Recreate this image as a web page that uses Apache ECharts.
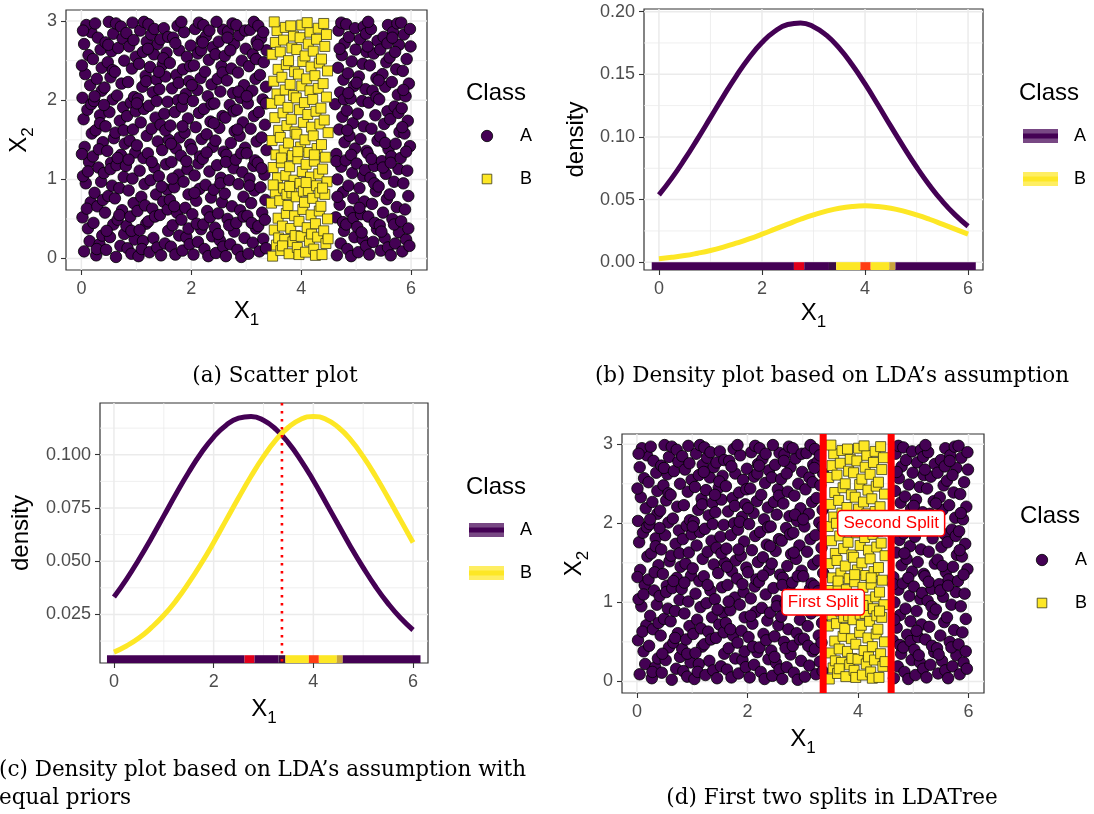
<!DOCTYPE html>
<html><head><meta charset="utf-8">
<script src="https://cdn.jsdelivr.net/npm/echarts@6/dist/echarts.min.js"></script>
<style>html,body{margin:0;padding:0;background:#fff}#c{width:1094px;height:814px}</style>
</head><body><div id="c"></div><script>
// ---------- data ----------
const classA = [
[0.05,0.09],[0.12,0.38],[0.02,0.52],[0.17,0.71],[0.08,0.95],[0.03,1.04],[0.14,1.22],[0.06,1.41],[0.19,1.58],[0.04,1.76],[0.11,1.88],[0.02,2.03],[0.16,2.19],[0.07,2.33],[0.01,2.44],[0.13,2.57],[0.05,2.71],[0.18,2.86],[0.09,2.95],[0.15,0.22],[0.10,0.63],[0.01,1.32],[0.18,1.95],[0.03,2.88],[0.12,1.10],
[0.27,0.04],[0.33,0.18],[0.22,0.45],[0.38,0.29],[0.29,0.66],[0.24,0.83],[0.36,0.97],[0.31,1.15],[0.21,1.29],[0.39,1.47],[0.26,1.62],[0.34,1.81],[0.23,1.99],[0.37,2.12],[0.28,2.27],[0.21,2.52],[0.35,2.64],[0.30,2.79],[0.25,2.97],[0.39,0.74],[0.32,1.38],[0.24,2.05],[0.37,2.41],[0.28,0.12],[0.34,1.71],
[0.45,0.11],[0.52,0.27],[0.58,0.43],[0.43,0.58],[0.49,0.79],[0.56,0.92],[0.41,1.08],[0.54,1.21],[0.47,1.36],[0.59,1.52],[0.44,1.67],[0.51,1.85],[0.57,2.01],[0.42,2.16],[0.53,2.29],[0.48,2.48],[0.55,2.62],[0.44,2.73],[0.50,2.99],[0.58,2.84],[0.46,0.35],[0.53,1.13],[0.41,1.94],[0.57,2.38],[0.49,2.70],
[0.63,0.02],[0.71,0.16],[0.78,0.31],[0.66,0.49],[0.74,0.61],[0.61,0.76],[0.69,0.89],[0.77,1.03],[0.64,1.18],[0.72,1.31],[0.79,1.45],[0.62,1.59],[0.70,1.74],[0.76,1.91],[0.65,2.06],[0.73,2.21],[0.61,2.36],[0.78,2.50],[0.67,2.66],[0.75,2.78],[0.63,2.97],[0.72,2.93],[0.69,0.55],[0.77,1.62],[0.66,1.27],
[0.84,0.13],[0.91,0.06],[0.97,0.24],[0.82,0.41],[0.89,0.53],[0.95,0.70],[0.86,0.86],[0.93,1.01],[0.81,1.17],[0.98,1.34],[0.88,1.49],[0.94,1.63],[0.83,1.80],[0.90,1.97],[0.96,2.04],[0.85,2.23],[0.92,2.40],[0.99,2.55],[0.87,2.68],[0.82,2.85],[0.95,2.76],[0.91,0.35],[0.86,1.25],[0.99,1.86],[0.93,2.98],
[1.04,0.03],[1.12,0.22],[1.18,0.44],[1.02,0.60],[1.09,0.78],[1.15,0.94],[1.06,1.11],[1.13,1.27],[1.01,1.43],[1.19,1.55],[1.08,1.72],[1.14,1.89],[1.03,2.02],[1.11,2.17],[1.17,2.31],[1.05,2.46],[1.12,2.61],[1.19,2.74],[1.07,2.88],[1.14,2.99],[1.10,0.12],[1.16,0.67],[1.01,1.96],[1.18,2.24],[1.06,0.36],
[1.24,0.08],[1.31,0.26],[1.38,0.14],[1.22,0.47],[1.29,0.63],[1.36,0.81],[1.26,0.99],[1.33,1.15],[1.21,1.33],[1.39,1.48],[1.28,1.64],[1.35,1.78],[1.23,1.93],[1.30,2.10],[1.37,2.26],[1.25,2.42],[1.32,2.58],[1.39,2.71],[1.27,2.83],[1.22,2.96],[1.34,0.53],[1.28,1.22],[1.37,1.99],[1.21,2.65],[1.33,2.90],
[1.45,0.04],[1.52,0.19],[1.58,0.35],[1.43,0.55],[1.49,0.72],[1.56,0.87],[1.41,1.04],[1.54,1.19],[1.47,1.37],[1.59,1.50],[1.44,1.69],[1.51,1.83],[1.57,1.98],[1.42,2.14],[1.53,2.30],[1.48,2.45],[1.55,2.60],[1.44,2.77],[1.50,2.91],[1.58,2.80],[1.46,0.91],[1.53,1.62],[1.41,2.36],[1.57,0.62],[1.49,2.53],
[1.63,0.15],[1.71,0.05],[1.78,0.29],[1.66,0.42],[1.74,0.58],[1.61,0.74],[1.69,0.90],[1.77,1.06],[1.64,1.22],[1.72,1.39],[1.79,1.53],[1.62,1.68],[1.70,1.85],[1.76,2.00],[1.65,2.15],[1.73,2.32],[1.61,2.47],[1.78,2.63],[1.67,2.79],[1.75,2.94],[1.69,0.66],[1.63,1.45],[1.77,2.22],[1.71,2.72],[1.66,1.01],
[1.84,0.10],[1.91,0.27],[1.97,0.18],[1.82,0.49],[1.89,0.64],[1.95,0.81],[1.86,0.97],[1.93,1.13],[1.81,1.30],[1.98,1.44],[1.88,1.59],[1.94,1.77],[1.83,1.92],[1.90,2.08],[1.96,2.24],[1.85,2.39],[1.92,2.55],[1.99,2.69],[1.87,2.86],[1.82,2.99],[1.95,0.38],[1.91,1.23],[1.86,2.02],[1.98,2.43],[1.84,1.67],
[2.04,0.05],[2.12,0.21],[2.18,0.37],[2.02,0.56],[2.09,0.73],[2.15,0.88],[2.06,1.05],[2.13,1.20],[2.01,1.38],[2.19,1.51],[2.08,1.66],[2.14,1.84],[2.03,1.99],[2.11,2.13],[2.17,2.28],[2.05,2.44],[2.12,2.59],[2.19,2.75],[2.07,2.90],[2.14,2.98],[2.10,0.44],[2.16,1.29],[2.01,2.19],[2.18,2.63],[2.06,0.83],
[2.24,0.12],[2.31,0.03],[2.38,0.28],[2.22,0.43],[2.29,0.60],[2.36,0.77],[2.26,0.93],[2.33,1.10],[2.21,1.26],[2.39,1.41],[2.28,1.57],[2.35,1.73],[2.23,1.89],[2.30,2.05],[2.37,2.20],[2.25,2.36],[2.32,2.51],[2.39,2.67],[2.27,2.81],[2.22,2.95],[2.34,0.52],[2.28,1.34],[2.37,1.95],[2.21,2.73],[2.33,2.88],
[2.45,0.07],[2.52,0.23],[2.58,0.15],[2.43,0.39],[2.49,0.57],[2.56,0.71],[2.41,0.87],[2.54,1.02],[2.47,1.18],[2.59,1.35],[2.44,1.49],[2.51,1.65],[2.57,1.80],[2.42,1.96],[2.53,2.11],[2.48,2.27],[2.55,2.43],[2.44,2.58],[2.50,2.74],[2.58,2.89],[2.46,2.99],[2.53,0.95],[2.41,1.71],[2.57,2.35],[2.49,0.31],
[2.63,0.03],[2.71,0.18],[2.78,0.34],[2.66,0.50],[2.74,0.66],[2.61,0.82],[2.69,0.99],[2.77,1.14],[2.64,1.31],[2.72,1.46],[2.79,1.61],[2.62,1.78],[2.70,1.94],[2.76,2.09],[2.65,2.25],[2.73,2.40],[2.61,2.56],[2.78,2.71],[2.67,2.87],[2.75,2.97],[2.69,0.42],[2.63,1.22],[2.77,1.86],[2.71,2.63],[2.66,2.79],
[2.84,0.11],[2.91,0.02],[2.97,0.26],[2.82,0.45],[2.89,0.61],[2.95,0.78],[2.86,0.94],[2.93,1.09],[2.81,1.25],[2.98,1.40],[2.88,1.55],[2.94,1.72],[2.83,1.88],[2.90,2.03],[2.96,2.19],[2.85,2.35],[2.92,2.50],[2.99,2.65],[2.87,2.82],[2.82,2.95],[2.95,0.53],[2.91,1.33],[2.86,2.11],[2.98,2.88],[2.84,1.63],
[3.04,0.06],[3.12,0.20],[3.18,0.38],[3.02,0.54],[3.09,0.70],[3.15,0.86],[3.06,1.01],[3.13,1.17],[3.01,1.33],[3.19,1.48],[3.08,1.64],[3.14,1.80],[3.03,1.96],[3.11,2.12],[3.17,2.27],[3.05,2.43],[3.12,2.58],[3.19,2.74],[3.07,2.89],[3.14,2.99],[3.10,0.45],[3.16,1.24],[3.01,2.05],[3.18,2.52],[3.06,0.92],
[3.24,0.09],[3.31,0.25],[3.36,0.13],[3.22,0.41],[3.29,0.58],[3.35,0.74],[3.26,0.90],[3.33,1.06],[3.21,1.21],[3.37,1.37],[3.28,1.53],[3.34,1.69],[3.23,1.85],[3.30,2.01],[3.36,2.17],[3.25,2.32],[3.32,2.48],[3.37,2.63],[3.27,2.78],[3.22,2.94],[3.34,0.49],[3.28,1.14],[3.36,1.96],[3.21,2.70],[3.31,2.86],
[4.65,0.04],[4.72,0.19],[4.78,0.35],[4.63,0.52],[4.70,0.68],[4.76,0.84],[4.66,1.00],[4.73,1.16],[4.64,1.32],[4.79,1.47],[4.69,1.63],[4.75,1.79],[4.62,1.95],[4.71,2.10],[4.77,2.26],[4.67,2.41],[4.74,2.57],[4.79,2.72],[4.68,2.88],[4.73,2.98],[4.76,0.46],[4.64,1.23],[4.78,2.01],[4.70,2.65],[4.66,0.78],
[4.84,0.12],[4.91,0.03],[4.97,0.27],[4.82,0.43],[4.89,0.59],[4.95,0.76],[4.86,0.92],[4.93,1.08],[4.81,1.24],[4.98,1.39],[4.88,1.55],[4.94,1.71],[4.83,1.87],[4.90,2.02],[4.96,2.18],[4.85,2.34],[4.92,2.49],[4.99,2.64],[4.87,2.80],[4.82,2.96],[4.95,0.51],[4.91,1.31],[4.86,2.09],[4.98,2.91],[4.84,1.62],
[5.04,0.08],[5.12,0.24],[5.18,0.16],[5.02,0.40],[5.09,0.56],[5.15,0.72],[5.06,0.89],[5.13,1.04],[5.01,1.20],[5.19,1.36],[5.08,1.51],[5.14,1.67],[5.03,1.83],[5.11,1.99],[5.17,2.14],[5.05,2.30],[5.12,2.46],[5.19,2.61],[5.07,2.77],[5.14,2.93],[5.10,0.33],[5.16,1.12],[5.01,2.22],[5.18,2.84],[5.06,0.64],
[5.24,0.05],[5.31,0.21],[5.38,0.37],[5.22,0.53],[5.29,0.69],[5.36,0.85],[5.26,1.02],[5.33,1.17],[5.21,1.33],[5.39,1.49],[5.28,1.64],[5.35,1.81],[5.23,1.97],[5.30,2.12],[5.37,2.28],[5.25,2.44],[5.32,2.59],[5.39,2.75],[5.27,2.90],[5.22,2.99],[5.34,0.45],[5.28,1.26],[5.37,2.04],[5.21,2.68],[5.33,0.95],
[5.45,0.10],[5.52,0.26],[5.58,0.14],[5.43,0.42],[5.49,0.58],[5.56,0.75],[5.41,0.91],[5.54,1.07],[5.47,1.23],[5.59,1.38],[5.44,1.54],[5.51,1.70],[5.57,1.86],[5.42,2.01],[5.53,2.17],[5.48,2.33],[5.55,2.48],[5.44,2.64],[5.50,2.80],[5.58,2.95],[5.46,0.34],[5.53,1.46],[5.41,2.25],[5.57,2.72],[5.49,1.15],
[5.63,0.04],[5.71,0.19],[5.78,0.33],[5.66,0.50],[5.74,0.65],[5.61,0.81],[5.69,0.97],[5.77,1.13],[5.64,1.29],[5.72,1.45],[5.79,1.60],[5.62,1.76],[5.70,1.92],[5.76,2.07],[5.65,2.23],[5.73,2.39],[5.61,2.54],[5.78,2.70],[5.67,2.86],[5.75,2.97],[5.69,0.43],[5.63,1.21],[5.77,1.84],[5.71,2.61],[5.66,2.79],
[5.84,0.09],[5.91,0.24],[5.97,0.16],[5.82,0.47],[5.89,0.62],[5.95,0.79],[5.86,0.95],[5.93,1.11],[5.81,1.27],[5.98,1.42],[5.88,1.58],[5.94,1.74],[5.83,1.90],[5.90,2.05],[5.96,2.21],[5.85,2.37],[5.92,2.52],[5.99,2.68],[5.87,2.83],[5.82,2.98],[5.95,0.38],[5.91,1.35],[5.86,2.13],[5.98,2.90],[5.84,1.66]
];
const classB = [
[3.48,0.03],[3.55,0.17],[3.51,0.36],[3.58,0.51],[3.46,0.70],[3.53,0.84],[3.57,1.02],[3.49,1.15],[3.54,1.31],[3.47,1.49],[3.59,1.62],[3.52,1.78],[3.46,1.96],[3.56,2.08],[3.50,2.24],[3.58,2.39],[3.47,2.58],[3.53,2.73],[3.56,2.88],[3.51,2.99],[3.59,0.26],[3.49,0.93],
[3.63,0.10],[3.70,0.24],[3.66,0.41],[3.73,0.57],[3.61,0.73],[3.68,0.89],[3.72,1.05],[3.64,1.21],[3.69,1.37],[3.62,1.53],[3.74,1.68],[3.67,1.84],[3.61,2.00],[3.71,2.13],[3.65,2.29],[3.73,2.45],[3.62,2.61],[3.68,2.76],[3.71,2.92],[3.66,0.16],[3.74,0.81],[3.64,1.27],
[3.78,0.06],[3.85,0.21],[3.81,0.38],[3.88,0.54],[3.76,0.67],[3.83,0.83],[3.87,0.99],[3.79,1.16],[3.84,1.30],[3.77,1.46],[3.89,1.60],[3.82,1.76],[3.76,1.91],[3.86,2.06],[3.80,2.20],[3.88,2.36],[3.77,2.50],[3.83,2.66],[3.86,2.81],[3.81,2.94],[3.89,0.29],[3.79,0.91],
[3.93,0.14],[4.00,0.28],[3.96,0.47],[4.03,0.62],[3.91,0.78],[3.98,0.95],[4.02,1.10],[3.94,1.26],[3.99,1.41],[3.92,1.57],[4.04,1.72],[3.97,1.88],[3.91,2.03],[4.01,2.18],[3.95,2.33],[4.03,2.49],[3.92,2.64],[3.98,2.79],[4.01,2.95],[3.96,0.05],[4.04,0.85],[3.94,1.35],
[4.08,0.08],[4.15,0.22],[4.11,0.39],[4.18,0.55],[4.06,0.71],[4.13,0.86],[4.17,1.03],[4.09,1.19],[4.14,1.34],[4.07,1.50],[4.19,1.66],[4.12,1.82],[4.06,1.97],[4.16,2.12],[4.10,2.27],[4.18,2.42],[4.07,2.56],[4.13,2.71],[4.16,2.86],[4.11,2.98],[4.19,0.31],[4.09,0.96],
[4.23,0.12],[4.30,0.27],[4.26,0.44],[4.33,0.60],[4.21,0.76],[4.28,0.92],[4.32,1.07],[4.24,1.23],[4.29,1.39],[4.22,1.55],[4.34,1.70],[4.27,1.86],[4.21,2.01],[4.31,2.15],[4.25,2.31],[4.33,2.47],[4.22,2.62],[4.28,2.77],[4.31,2.91],[4.26,0.04],[4.34,0.83],[4.24,1.31],
[4.38,0.05],[4.45,0.19],[4.41,0.35],[4.48,0.50],[4.36,0.66],[4.43,0.81],[4.47,0.97],[4.39,1.13],[4.44,1.28],[4.37,1.44],[4.49,1.59],[4.42,1.75],[4.36,1.90],[4.46,2.04],[4.40,2.21],[4.48,2.37],[4.37,2.52],[4.43,2.68],[4.46,2.83],[4.41,2.97],[4.49,0.25],[4.39,0.89]
];
const densX   = [0,0.25,0.5,0.75,1,1.25,1.5,1.75,2,2.25,2.5,2.75,3,3.25,3.5,3.75,4,4.25,4.5,4.75,5,5.25,5.5,5.75,6];
const densA_b = [0.0537,0.0671,0.0822,0.0985,0.1154,0.1324,0.1486,0.1632,0.1754,0.1844,0.1897,0.1910,0.1880,0.1812,0.1708,0.1576,0.1423,0.1257,0.1086,0.0919,0.0760,0.0615,0.0487,0.0378,0.0287];
const densB_b = [0.0028,0.0039,0.0053,0.0072,0.0094,0.0121,0.0152,0.0186,0.0224,0.0264,0.0304,0.0343,0.0378,0.0408,0.0431,0.0445,0.0450,0.0445,0.0431,0.0408,0.0378,0.0343,0.0304,0.0264,0.0224];
const densA_c = [0.0332,0.0415,0.0508,0.0608,0.0713,0.0818,0.0918,0.1008,0.1083,0.1139,0.1172,0.1180,0.1162,0.1119,0.1056,0.0974,0.0879,0.0776,0.0671,0.0567,0.0470,0.0380,0.0301,0.0233,0.0177];
const densB_c = [0.0073,0.0102,0.0139,0.0188,0.0246,0.0316,0.0398,0.0489,0.0588,0.0693,0.0798,0.0899,0.0991,0.1070,0.1129,0.1167,0.1180,0.1167,0.1129,0.1070,0.0991,0.0899,0.0798,0.0693,0.0588];
const rugStart = [-0.14, 2.62, 2.82, 3.30, 3.44, 3.91, 4.11, 4.47, 4.59];
const rugEnd   = [ 2.62, 2.82, 3.30, 3.44, 3.91, 4.11, 4.47, 4.59, 6.15];
const rugKind  = ['A','meanA','A','edgeA','B','meanB','B','edgeB','A'];
const ldaBoundary = 3.37;
const splitX = [3.37, 4.60];
const splitLabelY = [1.0, 2.0];
const splitLabels = ['First Split', 'Second Split'];
const xTicks = [0,2,4,6], xMinor = [1,3,5];
const x2Ticks = [0,1,2,3], x2Minor = [0.5,1.5,2.5];
const densTicksB = [0,0.05,0.1,0.15,0.2], densMinorB = [0.025,0.075,0.125,0.175];
const densTicksC = [0.025,0.05,0.075,0.1], densMinorC = [0.0125,0.0375,0.0625,0.0875,0.1125];

// ---------- styles ----------
const PURPLE = '#440154', YELLOW = '#FDE725';
const FONT = '"Liberation Sans", Arial, sans-serif';
const SERIF = '"DejaVu Serif", serif';
const rugColor = {A: PURPLE, meanA: '#E0001B', edgeA: '#3B0C42', B: YELLOW, meanB: '#FF3C14', edgeB: '#C9A53D'};

const grids = [
  {left: 66, top: 10, width: 361, height: 260},
  {left: 644, top: 9, width: 339, height: 261},
  {left: 100, top: 403, width: 328, height: 260},
  {left: 622, top: 434, width: 362, height: 259}
].map(g => Object.assign(g, {show: true, borderColor: '#333333', borderWidth: 1.2, backgroundColor: 'transparent'}));

const subRich = {
  m: {fontSize: 24, fontFamily: FONT, color: '#000', lineHeight: 30, verticalAlign: 'top'},
  s: {fontSize: 17, fontFamily: FONT, color: '#000', lineHeight: 30, verticalAlign: 'bottom'}
};

function axis(gi, min, max, ticks, fmt, name, gap, isY) {
  return {
    gridIndex: gi, type: 'value', min, max,
    axisLine: {show: false, onZero: false},
    axisTick: {show: true, length: 5, lineStyle: {color: '#333333', width: 1.1}, customValues: ticks},
    axisLabel: {customValues: ticks, color: '#4D4D4D', fontSize: 18, fontFamily: FONT, margin: isY ? 9 : 10, formatter: fmt},
    splitLine: {show: false},
    name, nameLocation: 'middle', nameGap: gap,
    nameTextStyle: {fontSize: 24, fontFamily: FONT, color: '#000', rich: subRich}
  };
}
const fInt = v => String(v);
const f2 = v => v.toFixed(2);
const f3 = v => v.toFixed(3);

const xAxes = [
  axis(0, -0.28, 6.29, xTicks, fInt, '{m|X}{s|1}', 29, false),
  axis(1, -0.29, 6.29, xTicks, fInt, '{m|X}{s|1}', 31, false),
  axis(2, -0.28, 6.30, xTicks, fInt, '{m|X}{s|1}', 34, false),
  axis(3, -0.27, 6.28, xTicks, fInt, '{m|X}{s|1}', 34, false)
];
const yAxes = [
  axis(0, -0.145, 3.14, x2Ticks, fInt, '{m|X}{s|2}', 29, true),
  axis(1, -0.0062, 0.2021, densTicksB, f2, 'density', 56, true),
  axis(2, 0.0022, 0.1243, densTicksC, f3, 'density', 67, true),
  axis(3, -0.147, 3.13, x2Ticks, fInt, '{m|X}{s|2}', 30, true)
];

// grid lines (ggplot theme_bw style)
function gridRender(params, api) {
  const cs = params.coordSys;
  const v = api.value(0), kind = api.value(1);
  const style = {stroke: '#EBEBEB', lineWidth: kind < 2 ? 1.5 : 0.8};
  if (kind % 2 === 0) {
    const px = api.coord([v, 0])[0];
    return {type: 'line', shape: {x1: px, y1: cs.y, x2: px, y2: cs.y + cs.height}, style};
  }
  const py = api.coord([0, v])[1];
  return {type: 'line', shape: {x1: cs.x, y1: py, x2: cs.x + cs.width, y2: py}, style};
}
function gridSeries(gi, xm, xn, ym, yn) {
  const data = [].concat(xm.map(v => [v, 0]), ym.map(v => [v, 1]), xn.map(v => [v, 2]), yn.map(v => [v, 3]));
  return {type: 'custom', xAxisIndex: gi, yAxisIndex: gi, z: 1, silent: true, renderItem: gridRender, data, encode: {x: 0}};
}
function rugRender(params, api) {
  const cs = params.coordSys;
  const x0 = api.coord([api.value(0), 0])[0], x1 = api.coord([api.value(1), 0])[0];
  const h = cs.height * 0.03;
  return {type: 'rect', shape: {x: x0, y: cs.y + cs.height - h, width: x1 - x0, height: h},
          style: {fill: rugColor[rugKind[params.dataIndex]]}};
}
function rugSeries(gi) {
  return {type: 'custom', xAxisIndex: gi, yAxisIndex: gi, z: 4, silent: true, renderItem: rugRender,
          data: rugStart.map((s, i) => [s, rugEnd[i]]), encode: {x: [0, 1]}};
}
function scatterSeries(gi, data, isA) {
  return {type: 'scatter', xAxisIndex: gi, yAxisIndex: gi, z: 2, silent: true, data,
          symbol: isA ? 'circle' : 'rect', symbolSize: isA ? 11.5 : 10,
          itemStyle: {color: isA ? PURPLE : YELLOW, borderColor: isA ? '#000' : '#3A3A1A', borderWidth: 0.8, opacity: 1}};
}
function lineSeries(gi, ys, color) {
  return {type: 'line', xAxisIndex: gi, yAxisIndex: gi, z: 3, silent: true, smooth: true, showSymbol: false,
          data: densX.map((x, i) => [x, ys[i]]), lineStyle: {color, width: 5}, itemStyle: {color}};
}
function vlineRender(kind) {
  return function (params, api) {
    const cs = params.coordSys;
    const px = api.coord([api.value(0), 0])[0];
    if (kind === 'dot') {
      return {type: 'line', shape: {x1: px, y1: cs.y, x2: px, y2: cs.y + cs.height},
              style: {stroke: '#FF0000', lineWidth: 2.6, lineDash: [2.6, 5.4]}};
    }
    return {type: 'rect', shape: {x: px - 3.5, y: cs.y, width: 7, height: cs.height}, style: {fill: '#FF0000'}};
  };
}
function splitLabelRender(params, api) {
  const p = api.coord([api.value(0), api.value(1)]);
  return {type: 'text', x: p[0], y: p[1],
          style: {text: splitLabels[params.dataIndex], fill: '#FF0000', font: '17px ' + FONT,
                  align: 'center', verticalAlign: 'middle', backgroundColor: '#FFFFFF',
                  borderColor: '#FF0000', borderWidth: 1.5, borderRadius: 3, padding: [4, 5, 3, 5]}};
}

const series = [
  gridSeries(0, xTicks, xMinor, x2Ticks, x2Minor),
  gridSeries(1, xTicks, xMinor, densTicksB, densMinorB),
  gridSeries(2, xTicks, xMinor, densTicksC, densMinorC),
  gridSeries(3, xTicks, xMinor, x2Ticks, x2Minor),
  scatterSeries(0, classA, true), scatterSeries(0, classB, false),
  lineSeries(1, densA_b, PURPLE), lineSeries(1, densB_b, YELLOW), rugSeries(1),
  lineSeries(2, densA_c, PURPLE), lineSeries(2, densB_c, YELLOW), rugSeries(2),
  {type: 'custom', xAxisIndex: 2, yAxisIndex: 2, z: 5, silent: true, renderItem: vlineRender('dot'), data: [[ldaBoundary, 0.05]], encode: {x: 0}},
  scatterSeries(3, classA, true), scatterSeries(3, classB, false),
  {type: 'custom', xAxisIndex: 3, yAxisIndex: 3, z: 5, silent: true, renderItem: vlineRender('solid'), data: splitX.map(x => [x, 1.5]), encode: {x: 0}},
  {type: 'custom', xAxisIndex: 3, yAxisIndex: 3, z: 6, silent: true, renderItem: splitLabelRender,
   data: splitX.map((x, i) => [x, splitLabelY[i]]), encode: {x: 0, y: 1}}
];

// legends and captions
function txt(x, y, text, font, align, color) {
  return {type: 'text', x, y, silent: true, style: {text, font, fill: color || '#000', align: align || 'left', verticalAlign: 'middle'}};
}
function pointLegend(x0, yTitle, yA, yB, keyX) {
  return [
    txt(x0, yTitle, 'Class', '24px ' + FONT),
    {type: 'circle', shape: {cx: keyX, cy: yA, r: 5.7}, style: {fill: PURPLE, stroke: '#000', lineWidth: 0.8}},
    {type: 'rect', shape: {x: keyX - 4.8, y: yB - 4.8, width: 9.6, height: 9.6}, style: {fill: YELLOW, stroke: '#3A3A1A', lineWidth: 0.8}},
    txt(keyX + 33, yA, 'A', '18px ' + FONT),
    txt(keyX + 33, yB, 'B', '18px ' + FONT)
  ];
}
function lineLegend(x0, yTitle, yA, yB, keyX) {
  const el = [txt(x0, yTitle, 'Class', '24px ' + FONT)];
  [[yA, PURPLE], [yB, YELLOW]].forEach(([y, c]) => {
    el.push({type: 'rect', shape: {x: keyX, y: y - 7, width: 35, height: 14}, style: {fill: c, opacity: 0.72}});
    el.push({type: 'rect', shape: {x: keyX, y: y - 2.5, width: 35, height: 5}, style: {fill: c}});
  });
  el.push(txt(keyX + 51, yA, 'A', '18px ' + FONT));
  el.push(txt(keyX + 51, yB, 'B', '18px ' + FONT));
  return el;
}
const CAP = '21.5px ' + SERIF;
const graphic = [].concat(
  pointLegend(466, 93, 136, 179, 487),
  lineLegend(1019, 93, 136, 179, 1023),
  lineLegend(466, 487, 530, 573, 469),
  pointLegend(1020, 516, 560, 603, 1042),
  [
    txt(275, 376, '(a) Scatter plot', CAP, 'center'),
    txt(832, 376, '(b) Density plot based on LDA\u2019s assumption', CAP, 'center'),
    txt(-1, 770, '(c) Density plot based on LDA\u2019s assumption with', CAP, 'left'),
    txt(-1, 798, 'equal priors', CAP, 'left'),
    txt(832, 798, '(d) First two splits in LDATree', CAP, 'center')
  ]
);

const chart = echarts.init(document.getElementById('c'), null, {renderer: 'canvas'});
chart.setOption({
  animation: false,
  backgroundColor: '#FFFFFF',
  textStyle: {fontFamily: FONT},
  grid: grids,
  xAxis: xAxes,
  yAxis: yAxes,
  series,
  graphic: {elements: graphic}
});
</script></body></html>
